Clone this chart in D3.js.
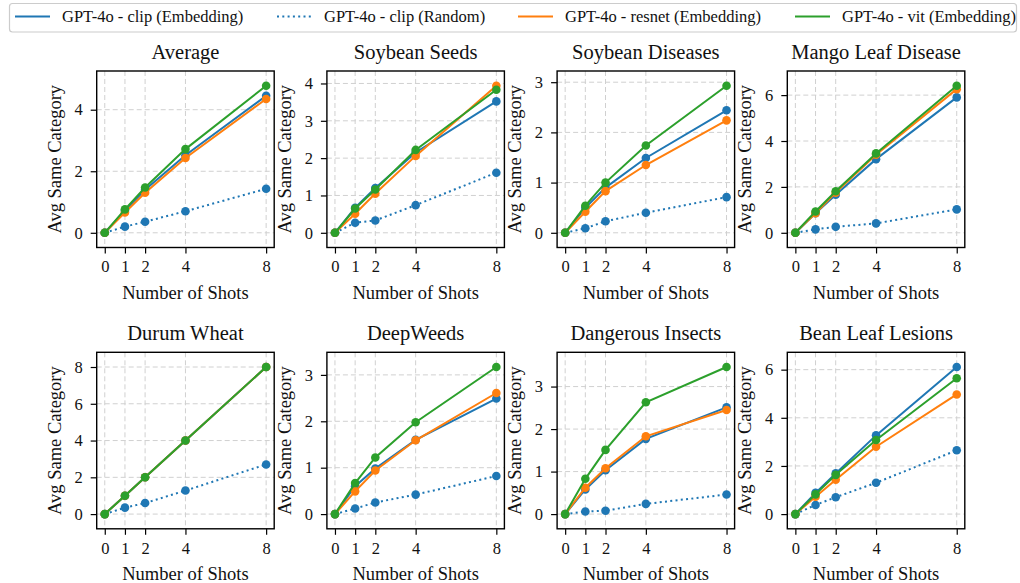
<!DOCTYPE html>
<html lang="en">
<head>
  <meta charset="UTF-8">
  <title>Avg Same Category vs Number of Shots</title>
  <script src="https://d3js.org/d3.v7.min.js"></script>
  <style>
    body { margin: 0; background: white; }
    svg text { font-family: "Liberation Serif", "Times New Roman", serif; }
    .grid line { stroke: #d0d0d0; stroke-width: 1; stroke-dasharray: 5,3; }
    .axis path, .axis line { stroke: black; stroke-width: 1.2; }
    .axis text { font-size: 16.5px; fill: #111; }
  </style>
</head>
<body>
  <div id="chart"></div>
  <script>
    const shots = [0, 1, 2, 4, 8];
    const titles = ["Average", "Soybean Seeds", "Soybean Diseases", "Mango Leaf Disease",
                    "Durum Wheat", "DeepWeeds", "Dangerous Insects", "Bean Leaf Lesions"];
    const yTicks = [[0, 2, 4], [0, 1, 2, 3, 4], [0, 1, 2, 3], [0, 2, 4, 6],
                    [0, 2, 4, 6, 8], [0, 1, 2, 3], [0, 1, 2, 3], [0, 2, 4, 6]];

    const clipEmb = [
      [0, 0.72, 1.40, 2.52, 4.45],
      [0, 0.67, 1.20, 2.15, 3.52],
      [0, 0.50, 0.90, 1.49, 2.44],
      [0, 0.85, 1.66, 3.21, 5.90],
      [0, 1, 2, 4, 8],
      [0, 0.60, 0.98, 1.60, 2.49],
      [0, 0.58, 1.03, 1.77, 2.51],
      [0, 0.88, 1.69, 3.27, 6.11]
    ];
    const clipRand = [
      [0, 0.20, 0.36, 0.70, 1.43],
      [0, 0.27, 0.33, 0.74, 1.61],
      [0, 0.09, 0.23, 0.40, 0.71],
      [0, 0.15, 0.26, 0.41, 1.02],
      [0, 0.35, 0.60, 1.28, 2.70],
      [0, 0.12, 0.25, 0.42, 0.82],
      [0, 0.06, 0.08, 0.24, 0.46],
      [0, 0.38, 0.70, 1.30, 2.65]
    ];
    const resnetEmb = [
      [0, 0.66, 1.30, 2.43, 4.35],
      [0, 0.51, 1.05, 2.06, 3.94],
      [0, 0.42, 0.83, 1.35, 2.24],
      [0, 0.85, 1.75, 3.40, 6.26],
      [0, 1, 2, 4, 8],
      [0, 0.49, 0.94, 1.59, 2.61],
      [0, 0.62, 1.08, 1.83, 2.45],
      [0, 0.72, 1.43, 2.80, 4.97]
    ];
    const vitEmb = [
      [0, 0.76, 1.47, 2.72, 4.78],
      [0, 0.65, 1.16, 2.22, 3.83],
      [0, 0.54, 1.00, 1.74, 2.93],
      [0, 0.93, 1.81, 3.46, 6.41],
      [0, 1, 2, 4, 8],
      [0, 0.67, 1.22, 1.98, 3.17],
      [0, 0.83, 1.51, 2.63, 3.46],
      [0, 0.82, 1.63, 3.08, 5.64]
    ];

    const seriesNames = ["GPT-4o - clip (Embedding)", "GPT-4o - clip (Random)",
                         "GPT-4o - resnet (Embedding)", "GPT-4o - vit (Embedding)"];
    const seriesData = [clipEmb, clipRand, resnetEmb, vitEmb];
    const colors = ["#1f77b4", "#1f77b4", "#ff7f0e", "#2ca02c"];
    const dashes = [null, "2,3.3", null, null];
    const serif = "'Liberation Serif', 'Times New Roman', serif";

    const width = 1020, height = 583;
    const svg = d3.select("#chart").append("svg")
      .attr("width", width).attr("height", height)
      .attr("font-family", serif);

    // panel geometry
    const left0 = 96.7, colStep = 230.2, pw = 177.5, ph = 176.5;
    const tops = [71, 352.3];

    titles.forEach((title, p) => {
      const col = p % 4, row = Math.floor(p / 4);
      const x0 = left0 + col * colStep, y0 = tops[row];
      const g = svg.append("g").attr("transform", `translate(${x0},${y0})`);

      const x = d3.scaleLinear().domain([-0.4, 8.4]).range([0, pw]);
      const ymax = d3.max(seriesData, s => d3.max(s[p]));
      const y = d3.scaleLinear().domain([-0.1 * ymax, 1.1 * ymax]).range([ph, 0]);

      // grid
      const grid = g.append("g").attr("class", "grid");
      grid.selectAll(".gx").data(shots).enter().append("line")
        .attr("x1", d => x(d)).attr("x2", d => x(d)).attr("y1", 0).attr("y2", ph);
      grid.selectAll(".gy").data(yTicks[p]).enter().append("line")
        .attr("x1", 0).attr("x2", pw).attr("y1", d => y(d)).attr("y2", d => y(d));

      // series
      seriesData.forEach((s, i) => {
        const pts = shots.map((v, k) => [v, s[p][k]]);
        g.append("path")
          .datum(pts)
          .attr("fill", "none")
          .attr("stroke", colors[i])
          .attr("stroke-width", 2)
          .attr("stroke-dasharray", dashes[i])
          .attr("d", d3.line().x(d => x(d[0])).y(d => y(d[1])));
        g.selectAll(".pt" + i).data(pts).enter().append("circle")
          .attr("cx", d => x(d[0])).attr("cy", d => y(d[1]))
          .attr("r", 4.3).attr("fill", colors[i]);
      });

      // frame
      g.append("rect").attr("width", pw).attr("height", ph)
        .attr("fill", "none").attr("stroke", "black").attr("stroke-width", 1.4);

      // axes
      g.append("g").attr("class", "axis")
        .attr("transform", `translate(0,${ph})`)
        .call(d3.axisBottom(x).tickValues(shots).tickSize(6).tickPadding(7).tickFormat(d3.format("d")))
        .call(a => a.select(".domain").remove())
        .attr("font-family", serif).attr("font-size", 16.5);
      g.append("g").attr("class", "axis")
        .call(d3.axisLeft(y).tickValues(yTicks[p]).tickSize(6).tickPadding(8).tickFormat(d3.format("d")))
        .call(a => a.select(".domain").remove())
        .attr("font-family", serif).attr("font-size", 16.5);

      // texts
      g.append("text").attr("x", pw / 2).attr("y", -12)
        .attr("text-anchor", "middle").attr("font-size", 20.5).attr("fill", "#111").text(title);
      g.append("text").attr("x", pw / 2).attr("y", ph + 51)
        .attr("text-anchor", "middle").attr("font-size", 18.5).attr("fill", "#111").text("Number of Shots");
      g.append("text")
        .attr("transform", `translate(-36,${ph / 2}) rotate(-90)`)
        .attr("text-anchor", "middle").attr("font-size", 18.5).attr("fill", "#111").text("Avg Same Category");
    });

    // legend
    const legend = svg.append("g");
    legend.append("rect").attr("x", 9.5).attr("y", 3.5).attr("width", 1007).attr("height", 28.5)
      .attr("rx", 3).attr("fill", "white").attr("stroke", "#cccccc").attr("stroke-width", 1.2);
    const legX = [15, 277, 518, 795];
    seriesNames.forEach((name, i) => {
      const lg = legend.append("g").attr("transform", `translate(${legX[i]},16.5)`);
      lg.append("line").attr("x1", 0).attr("x2", 35)
        .attr("stroke", colors[i]).attr("stroke-width", 2).attr("stroke-dasharray", dashes[i]);
      lg.append("text").attr("x", 47).attr("y", 5.5)
        .attr("font-size", 16.5).attr("fill", "#111").text(name);
    });
  </script>
</body>
</html>
